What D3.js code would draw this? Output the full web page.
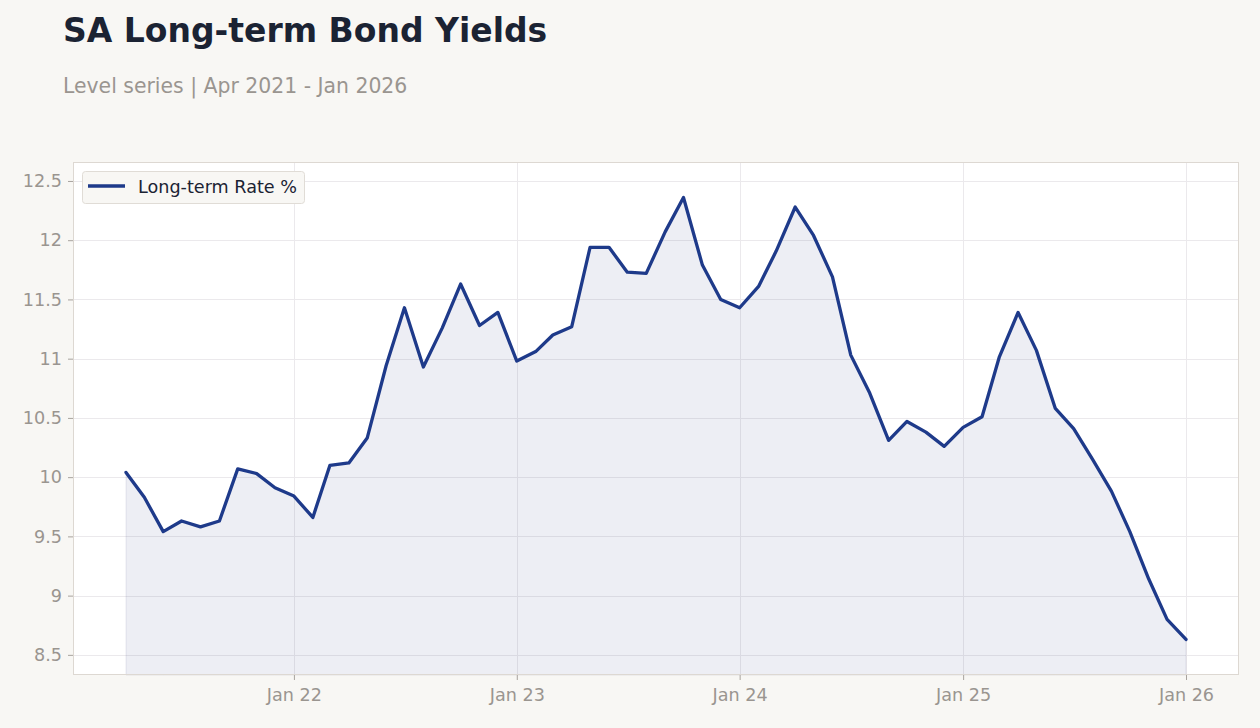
<!DOCTYPE html>
<html>
<head>
<meta charset="utf-8">
<script src="https://cdn.jsdelivr.net/npm/d3@7"></script>
<style>
  html, body { margin: 0; padding: 0; background: #f8f7f4; }
  body { width: 1260px; height: 728px; overflow: hidden; font-family: "DejaVu Sans", sans-serif; }
</style>
</head>
<body>
<div id="chart"></div>
<script>
// monthly observations, Apr 2021 .. Jan 2026
const startMonth = '2021-04'
const rates = [
  10.04, 9.83, 9.54, 9.63, 9.58, 9.63, 10.07, 10.03, 9.91,
  9.84, 9.66, 10.10, 10.12, 10.33, 10.94, 11.43, 10.93, 11.26, 11.63, 11.28, 11.39,
  10.98, 11.06, 11.20, 11.27, 11.94, 11.94, 11.73, 11.72, 12.07, 12.36, 11.79, 11.50,
  11.43, 11.61, 11.91, 12.28, 12.04, 11.69, 11.03, 10.71, 10.31, 10.47, 10.38, 10.26,
  10.42, 10.51, 11.01, 11.39, 11.07, 10.58, 10.41, 10.15, 9.88, 9.54, 9.14, 8.80,
  8.63
]
const yTicks = [8.5, 9, 9.5, 10, 10.5, 11, 11.5, 12, 12.5]
const xTickDates = ['2022-01-01', '2023-01-01', '2024-01-01', '2025-01-01', '2026-01-01']
const seriesName = 'Long-term Rate %'

const W = 1260, H = 728
const M = { left: 73, right: 21, top: 162, bottom: 53 }
const LINE = '#1e3a8a'
const MUTED = '#9a9590'

const parseMonth = d3.timeParse('%Y-%m')
const data = rates.map((v, i) => ({ date: d3.timeMonth.offset(parseMonth(startMonth), i), v }))

const svg = d3.select('#chart').append('svg')
  .attr('width', W).attr('height', H)
  .style('display', 'block')

// title block
svg.append('text').attr('x', 63).attr('y', 42)
  .attr('font-size', 33).attr('font-weight', 'bold').attr('fill', '#1b2333')
  .text('SA Long-term Bond Yields')
svg.append('text').attr('x', 63).attr('y', 93)
  .attr('font-size', 20.4).attr('fill', MUTED)
  .text('Level series | Apr 2021 - Jan 2026')

const x0 = data[0].date, x1 = data[data.length - 1].date
const pad = (x1 - x0) * 0.05
const x = d3.scaleTime()
  .domain([new Date(+x0 - pad), new Date(+x1 + pad)])
  .range([M.left, W - M.right])

const [vMin, vMax] = d3.extent(rates)
const y = d3.scaleLinear()
  .domain([vMin - 0.3, vMax + 0.3])
  .range([H - M.bottom, M.top])

// plot background
svg.append('rect')
  .attr('x', M.left).attr('y', M.top)
  .attr('width', W - M.left - M.right).attr('height', H - M.top - M.bottom)
  .attr('fill', '#ffffff')

// grid
const grid = svg.append('g').attr('stroke', '#ebe9ec').attr('stroke-width', 1)
yTicks.forEach(t => {
  grid.append('line')
    .attr('x1', M.left).attr('x2', W - M.right)
    .attr('y1', Math.round(y(t)) + 0.5).attr('y2', Math.round(y(t)) + 0.5)
})
const xTicks = xTickDates.map(s => new Date(s + 'T00:00:00'))
xTicks.forEach(t => {
  grid.append('line')
    .attr('x1', Math.round(x(t)) + 0.5).attr('x2', Math.round(x(t)) + 0.5)
    .attr('y1', M.top).attr('y2', H - M.bottom)
})

// area + line
const area = d3.area()
  .x(d => x(d.date)).y0(y.range()[0]).y1(d => y(d.v))
svg.append('path').datum(data)
  .attr('d', area)
  .attr('fill', '#3a4682').attr('fill-opacity', 0.09)
  .attr('stroke', '#3a4682').attr('stroke-opacity', 0.1).attr('stroke-width', 1)

const line = d3.line().x(d => x(d.date)).y(d => y(d.v))
svg.append('path').datum(data)
  .attr('d', line)
  .attr('fill', 'none').attr('stroke', LINE)
  .attr('stroke-width', 3.3).attr('stroke-linejoin', 'round').attr('stroke-linecap', 'round')

// frame
svg.append('rect')
  .attr('x', M.left + 0.5).attr('y', M.top + 0.5)
  .attr('width', W - M.left - M.right - 1).attr('height', H - M.top - M.bottom - 1)
  .attr('fill', 'none').attr('stroke', '#ddd8d2')

// axes
const yAxis = svg.append('g')
  .attr('transform', `translate(${M.left},0)`)
  .call(d3.axisLeft(y).tickValues(yTicks).tickSize(5).tickPadding(6).tickFormat(d3.format('~g')))
const xAxis = svg.append('g')
  .attr('transform', `translate(0,${H - M.bottom})`)
  .call(d3.axisBottom(x).tickValues(xTicks).tickSize(5).tickPadding(9).tickFormat(d3.timeFormat('%b %y')))
;[yAxis, xAxis].forEach(g => {
  g.select('.domain').remove()
  g.selectAll('.tick line').attr('stroke', '#a8a39e')
  g.selectAll('.tick text')
    .attr('fill', MUTED).attr('font-size', 17.6)
    .attr('font-family', '"DejaVu Sans", sans-serif')
})

// legend
const lg = svg.append('g').attr('transform', 'translate(82,171)')
lg.append('rect')
  .attr('x', 0.5).attr('y', 0.5).attr('width', 222).attr('height', 32).attr('rx', 3)
  .attr('fill', '#f8f7f4').attr('stroke', '#e0dcd6')
lg.append('line')
  .attr('x1', 6).attr('x2', 43).attr('y1', 15).attr('y2', 15)
  .attr('stroke', LINE).attr('stroke-width', 3.3)
lg.append('text')
  .attr('x', 56).attr('y', 21.5)
  .attr('font-size', 17.6).attr('fill', '#1b2333')
  .text(seriesName)
</script>
</body>
</html>
